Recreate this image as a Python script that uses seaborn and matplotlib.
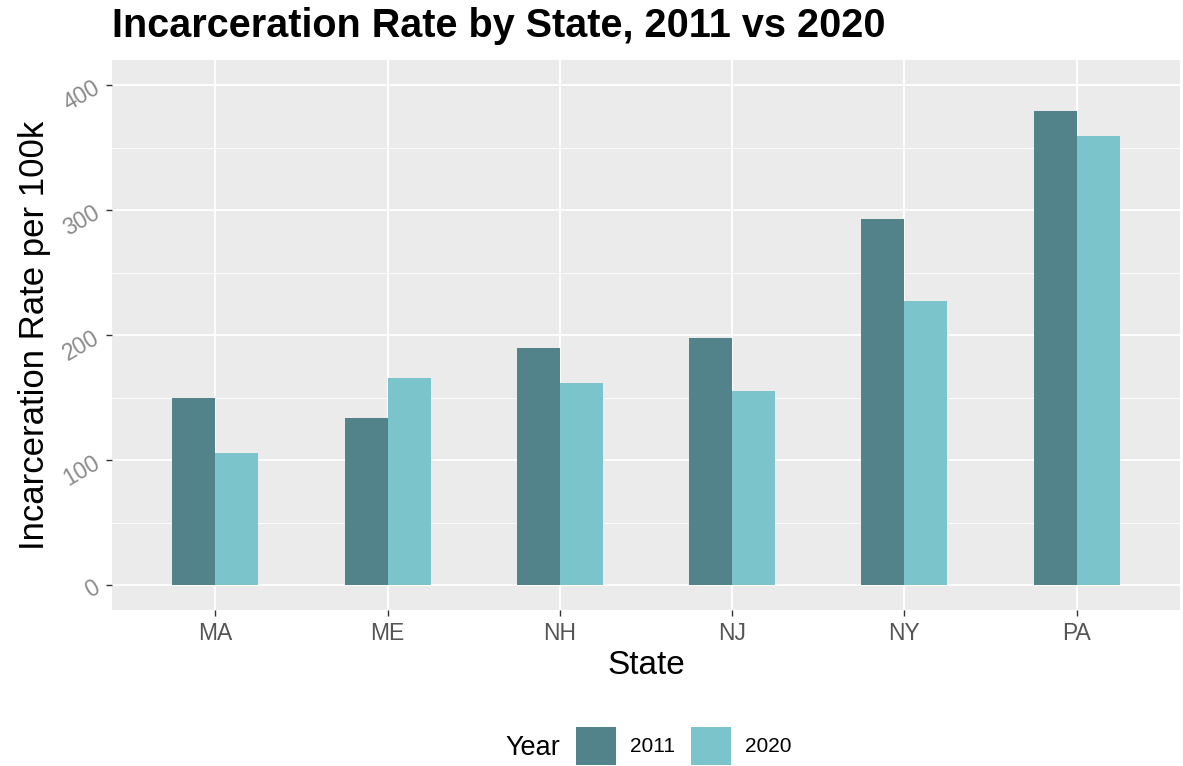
import matplotlib
matplotlib.use("Agg")
import matplotlib.pyplot as plt
from matplotlib.patches import Patch
from matplotlib.ticker import MultipleLocator
import pandas as pd
import seaborn as sns

# values
states = ["MA", "ME", "NH", "NJ", "NY", "PA"]
rate_2011 = [150, 134, 190, 198, 293, 379]
rate_2020 = [106, 166, 162, 155, 227, 359]
years = ["2011", "2020"]
colors = ["#52838A", "#7CC4CB"]

df = pd.DataFrame({
    "State": states * 2,
    "Year": [years[0]] * len(states) + [years[1]] * len(states),
    "Rate": rate_2011 + rate_2020,
})

sns.set_theme(style="darkgrid", rc={
    "axes.facecolor": "#EBEBEB",
    "grid.color": "white",
    "axes.edgecolor": "#EBEBEB",
    "xtick.bottom": True,
    "ytick.left": True,
    "text.color": "black",
    "axes.labelcolor": "black",
})
plt.rcParams["font.family"] = ["Liberation Sans", "DejaVu Sans"]

fig = plt.figure(figsize=(11.83, 7.66), dpi=100)
ax = fig.add_axes([112 / 1183, 156 / 766, 1068 / 1183, 550 / 766])

sns.barplot(data=df, x="State", y="Rate", hue="Year", order=states,
            hue_order=years, palette=colors, width=0.5, saturation=1,
            edgecolor="none", linewidth=0, ax=ax, legend=False)

ax.set_ylim(-20, 420)
ax.set_xlim(-0.6, 5.6)
ax.yaxis.set_major_locator(MultipleLocator(100))
ax.yaxis.set_minor_locator(MultipleLocator(50))
ax.grid(which="major", color="white", linewidth=1.3)
ax.grid(which="minor", axis="y", color="white", linewidth=0.6)
ax.set_axisbelow(True)
for s in ax.spines.values():
    s.set_visible(False)

ax.tick_params(axis="both", which="major", length=4, width=1, color="#333333",
               labelsize=16.5, pad=3)
ax.tick_params(axis="x", labelcolor="#555555", pad=5)
ax.tick_params(axis="y", labelcolor="#8A8A8A", pad=2)
ax.tick_params(axis="y", which="minor", length=0)
for lbl in ax.get_yticklabels():
    lbl.set_rotation(30)

ax.set_xlabel("State", fontsize=24, labelpad=3)
ax.set_ylabel("Incarceration Rate per 100k", fontsize=25, labelpad=6)

fig.text(112 / 1183, 1 - 26 / 766, "Incarceration Rate by State, 2011 vs 2020",
         fontsize=28.5, fontweight="bold", va="center", ha="left")

# bottom legend with title on the left, ggplot style
fig.text(560 / 1183, 1 - 748 / 766, "Year", fontsize=19.5, ha="right", va="center")
handles = [Patch(facecolor=c, edgecolor="none") for c in colors]
fig.legend(handles, years, loc="center left", bbox_to_anchor=(576 / 1183, 1 - 746 / 766),
           ncol=2, frameon=False, fontsize=15, handlelength=1.92, handleheight=2.4,
           handletextpad=0.67, columnspacing=0.77, borderaxespad=0, borderpad=0)

fig.savefig("out.png", dpi=100)
